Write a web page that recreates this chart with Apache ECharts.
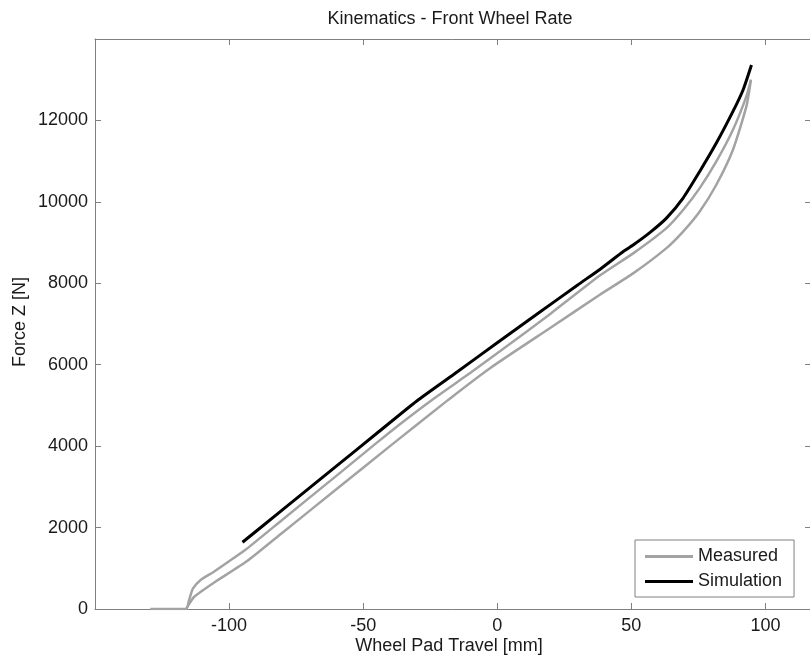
<!DOCTYPE html>
<html>
<head>
<meta charset="utf-8">
<title>Kinematics - Front Wheel Rate</title>
<script src="https://cdn.jsdelivr.net/npm/echarts@6/dist/echarts.min.js"></script>
<style>
  html, body { margin: 0; padding: 0; background: #ffffff; }
  #chart { width: 810px; height: 663px; }
</style>
</head>
<body>
<div id="chart"></div>
<script>
// Axis ranges and tick labels
const xRange = [-150, 117];
const yRange = [0, 14000];
const xTickLabels = [-100, -50, 0, 50, 100];
const yTickLabels = [0, 2000, 4000, 6000, 8000, 10000, 12000];

// Measured wheel rate: loading branch (with the flat start at zero force)
const measuredUpX = [-129.4, -116, -115, -113.5, -110.5, -105.8, -99.6, -93.4, -80, -60, -45, -36.3, -23.2, -10, 1, 20, 38.25, 50.8, 63.1, 69.3, 75.5, 81.7, 87.9, 92.9, 94.6];
const measuredUpY = [0, 0, 200, 500, 720, 910, 1190, 1480, 2200, 3270, 4080, 4540, 5190, 5800, 6330, 7260, 8190, 8741, 9356, 9800, 10338, 10993, 11771, 12590, 13000];

// Measured wheel rate: unloading branch
const measuredDownX = [94.6, 92.9, 87.9, 81.7, 75.5, 69.3, 63.1, 50.8, 38.25, 20, -2.7, -18.3, -40, -60, -80, -93.4, -105.8, -113, -115.5, -116];
const measuredDownY = [13000, 12344, 11280, 10420, 9764, 9270, 8864, 8250, 7717, 6914, 5915, 5136, 4000, 2940, 1880, 1170, 640, 300, 60, 0];

// Simulated wheel rate
const simX = [-95, -80, -60, -45, -30, -15, 0, 15, 30, 38.25, 47, 50.8, 57, 63.1, 69.3, 75.5, 81.7, 87.9, 91.7, 94.8];
const simY = [1640, 2440, 3510, 4310, 5110, 5820, 6540, 7250, 7960, 8340, 8780, 8945, 9250, 9601, 10093, 10747, 11444, 12221, 12754, 13360];

const pairs = (xs, ys) => xs.map((x, i) => [x, ys[i]]);

const font = 'Liberation Sans, Arial, Helvetica, sans-serif';
const textColor = '#1a1a1a';
const frameColor = '#808080';
const grayLine = '#a3a3a3';

const chart = echarts.init(document.getElementById('chart'), null, { renderer: 'canvas' });

const baseAxis = {
  type: 'value',
  axisLine: { show: true, onZero: false, lineStyle: { color: frameColor, width: 1 } },
  axisTick: { show: true, inside: true, length: 6, lineStyle: { color: frameColor, width: 1 } },
  splitLine: { show: false }
};

chart.setOption({
  animation: false,
  backgroundColor: '#ffffff',
  grid: { left: 95, top: 39, right: -1, bottom: 54, containLabel: false, outerBoundsMode: 'none' },
  xAxis: [
    Object.assign({}, baseAxis, {
      position: 'bottom',
      min: xRange[0], max: xRange[1], interval: 50,
      axisLabel: {
        show: true, margin: 8, color: textColor, fontFamily: font, fontSize: 18,
        hideOverlap: false,
        formatter: v => (xTickLabels.indexOf(v) >= 0 ? String(v) : '')
      }
    }),
    Object.assign({}, baseAxis, {
      position: 'top',
      min: xRange[0], max: xRange[1], interval: 50,
      axisLabel: { show: false }
    })
  ],
  yAxis: [
    Object.assign({}, baseAxis, {
      position: 'left',
      min: yRange[0], max: yRange[1], interval: 2000,
      axisLabel: {
        show: true, margin: 7, color: textColor, fontFamily: font, fontSize: 18,
        formatter: v => (yTickLabels.indexOf(v) >= 0 ? String(v) : '')
      }
    }),
    Object.assign({}, baseAxis, {
      position: 'right',
      min: yRange[0], max: yRange[1], interval: 2000,
      axisLabel: { show: false }
    })
  ],
  legend: {
    orient: 'vertical',
    left: 635,
    top: 540,
    data: ['Measured', 'Simulation'],
    icon: 'rect',
    itemWidth: 48,
    itemHeight: 3,
    itemGap: 6,
    itemTextGap: 7,
    padding: [7, 12, 6, 10],
    borderColor: frameColor,
    borderWidth: 1,
    borderRadius: 0,
    backgroundColor: '#ffffff',
    textStyle: { color: textColor, fontFamily: font, fontSize: 18, lineHeight: 19 }
  },
  graphic: [
    {
      type: 'text', x: 450, y: 19,
      style: { text: 'Kinematics - Front Wheel Rate', fill: textColor, font: '18px ' + font, textAlign: 'center', textVerticalAlign: 'middle' }
    },
    {
      type: 'text', x: 449, y: 646,
      style: { text: 'Wheel Pad Travel [mm]', fill: textColor, font: '18px ' + font, textAlign: 'center', textVerticalAlign: 'middle' }
    },
    {
      type: 'text', x: 20, y: 322, rotation: Math.PI / 2,
      style: { text: 'Force Z [N]', fill: textColor, font: '18px ' + font, textAlign: 'center', textVerticalAlign: 'middle' }
    }
  ],
  series: [
    {
      name: 'Measured', type: 'line', xAxisIndex: 0, yAxisIndex: 0,
      data: pairs(measuredUpX, measuredUpY),
      showSymbol: false, symbol: 'none', smooth: 0.2,
      lineStyle: { color: grayLine, width: 2.5 }, itemStyle: { color: grayLine }
    },
    {
      name: 'Measured', type: 'line', xAxisIndex: 0, yAxisIndex: 0,
      data: pairs(measuredDownX, measuredDownY),
      showSymbol: false, symbol: 'none', smooth: 0.2,
      lineStyle: { color: grayLine, width: 2.5 }, itemStyle: { color: grayLine }
    },
    {
      name: 'Simulation', type: 'line', xAxisIndex: 0, yAxisIndex: 0,
      data: pairs(simX, simY),
      showSymbol: false, symbol: 'none', smooth: 0.2,
      lineStyle: { color: '#000000', width: 3 }, itemStyle: { color: '#000000' }
    }
  ]
});
</script>
</body>
</html>
